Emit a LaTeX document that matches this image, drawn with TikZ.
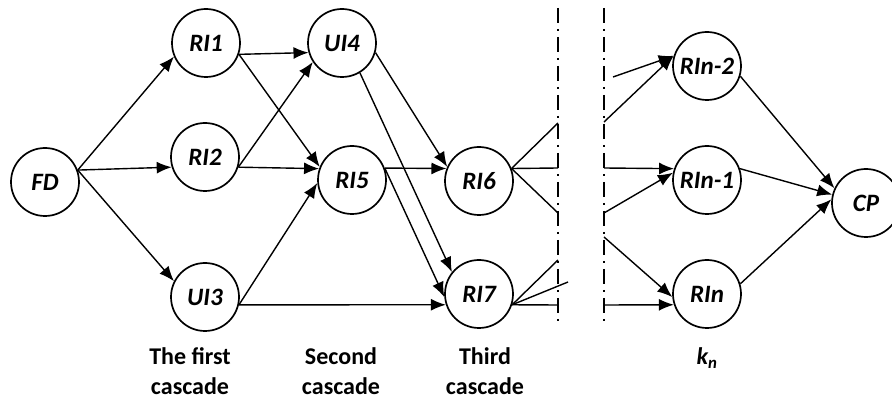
\documentclass[tikz,border=0pt]{standalone}
\usepackage{fontspec}
\setmainfont{Carlito}
\usetikzlibrary{arrows.meta}
\begin{document}
\begin{tikzpicture}[x=1pt,y=-1pt,
  nd/.style={circle,draw,line width=1.7pt,minimum size=68pt,inner sep=0pt,font=\fontsize{25}{26}\selectfont\bfseries\itshape},
  ar/.style={line width=1.4pt,-{Latex[length=15pt,width=12pt]}},
  ln/.style={line width=1.4pt},
  dd/.style={line width=1.3pt,dash pattern=on 15pt off 6pt on 2pt off 6pt},
  lab/.style={font=\fontsize{24}{30}\selectfont\bfseries,align=center}]
\useasboundingbox (0,0) rectangle (892,403);
% nodes
\node[nd] (FD) at (45,182) {FD};
\node[nd] (RI1) at (206,43) {RI1};
\node[nd] (RI2) at (205,157) {RI2};
\node[nd] (UI3) at (205,297) {UI3};
\node[nd] (UI4) at (342,43) {UI4};
\node[nd] (RI5) at (352,180) {RI5};
\node[nd] (RI6) at (479,181) {RI6};
\node[nd] (RI7) at (479,294) {RI7};
\node[nd] (RIn2) at (707,66) {RIn-2};
\node[nd] (RIn1) at (707,180) {RIn-1};
\node[nd] (RIn) at (707,294) {RIn};
\node[nd] (CP) at (866,203) {CP};
% dash-dot separators
\coordinate (s1t) at (558,8);
\coordinate (s1b) at (558,325);
\coordinate (s2t) at (604,8);
\coordinate (s2b) at (604,325);
\draw[dd] (s1t) -- (s1b);
\draw[dd] (s2t) -- (s2b);
% free ends at the separators
\coordinate (a1) at (558,123);
\coordinate (a2) at (558,168);
\coordinate (a3) at (558,213);
\coordinate (a4) at (558,260);
\coordinate (a5) at (568,282);
\coordinate (a6) at (558,305);
\coordinate (b1) at (604,122);
\coordinate (b2) at (613,77);
\coordinate (b3) at (604,168);
\coordinate (b4) at (604,213);
\coordinate (b5) at (604,237);
\coordinate (b6) at (604,305);
% first cascade
\draw[ar] (FD.20) -- (RI1.203);
\draw[ar] (FD.20) -- (RI2.197);
\draw[ar] (FD.20) -- (UI3.153);
% second cascade
\draw[ar] (RI1.341) -- (UI4.196);
\draw[ar] (RI1.341) -- (RI5.158);
\draw[ar] (RI2.343) -- (UI4.213);
\draw[ar] (RI2.343) -- (RI5.161);
\draw[ar] (UI3.347) -- (RI5.185);
\draw[ar] (UI3.347) -- (RI7.198);
% third cascade
\draw[ar] (UI4.344) -- (RI6.156);
\draw[ar] (UI4.301) -- (RI7.141);
\draw[ar] (RI5.20) -- (RI6.159);
\draw[ar] (RI5.20) -- (RI7.185);
% to separator
\draw[ln] (RI6.21) -- (a1);
\draw[ln] (RI6.21) -- (a2);
\draw[ln] (RI6.21) -- (a3);
\draw[ln] (RI7.342) -- (a4);
\draw[ln] (RI7.342) -- (a5);
\draw[ln] (RI7.342) -- (a6);
% last cascade
\draw[ar] (b1) -- (RIn2.163);
\draw[ar] (b2) -- (RIn2.163);
\draw[ar] (b3) -- (RIn1.161);
\draw[ar] (b4) -- (RIn1.168);
\draw[ar] (b5) -- (RIn.185);
\draw[ar] (b6) -- (RIn.198);
\draw[ar] (RIn2.343) -- (CP.155);
\draw[ar] (RIn1.19) -- (CP.166);
\draw[ar] (RIn.17) -- (CP.174);
% labels
\node[lab] (L1) at (190,371) {The first\\cascade};
\node[lab] (L2) at (341,371) {Second\\cascade};
\node[lab] (L3) at (485,371) {Third\\cascade};
\node[font=\fontsize{24}{30}\selectfont\bfseries\itshape] (K) at (707,358) {k\textsubscript{n}};
\end{tikzpicture}
\end{document}
